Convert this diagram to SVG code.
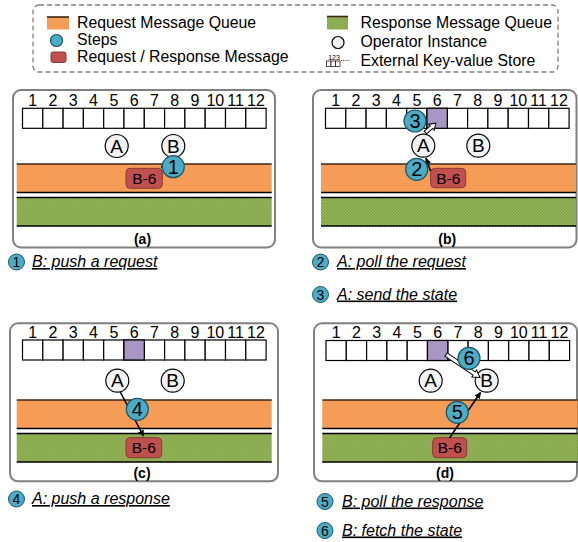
<svg xmlns="http://www.w3.org/2000/svg" xmlns:xlink="http://www.w3.org/1999/xlink" width="578" height="542" viewBox="0 0 578 542">
  <style>
    text { font-family: "Liberation Sans", Arial, sans-serif; fill: #000; }
    .legend-text { font-size: 15.8px; }
    .num { font-size: 16px; text-anchor: middle; }
    .op { fill: #f2f2f2; stroke: #000; stroke-width: 1.2; }
    .op-label { font-size: 19px; text-anchor: middle; }
    .step { fill: #4BACC6; stroke: #1f5566; stroke-width: 1.2; }
    .step-label { font-size: 20px; text-anchor: middle; }
    .cap-step { fill: #4BACC6; stroke: #1f5566; stroke-width: 1; }
    .cap-num { font-size: 14px; text-anchor: middle; }
    .caption { font-size: 16px; font-style: italic; text-decoration: underline; }
    .msg { fill: #C0504D; stroke: #8C3836; stroke-width: 1; }
    .msg-label { font-size: 15.5px; text-anchor: middle; }
    .panel { fill: #fff; stroke: #808080; stroke-width: 2; }
    .panel-label { font-size: 14px; font-weight: bold; text-anchor: middle; }
    .cell { fill: #fff; stroke: #000; stroke-width: 1.2; }
    .used { fill: #A897C4; stroke: #000; stroke-width: 1.2; }
    .req { fill: #F59D56; }
    .resp { fill: url(#hatch); }
    .rule { stroke: #000; stroke-width: 1.6; }
    .rule-top { stroke: #3d2614; stroke-width: 1.6; }
    .flow { fill: none; stroke: #000; stroke-width: 1.6; marker-end: url(#head); }
    .block { fill: #fff; stroke: #000; stroke-width: 1; stroke-linejoin: miter; }
    .kv { fill: #fff; stroke: #000; stroke-width: 0.7; }
  </style>
  <defs>
    <pattern id="hatch" width="3" height="3" patternUnits="userSpaceOnUse">
      <rect width="3" height="3" fill="#9ABA5A"/>
      <path d="M0 0h1.5v1.5H0zM1.5 1.5H3V3H1.5z" fill="#7FA047"/>
    </pattern>
    <marker id="head" viewBox="0 0 10 10" refX="9" refY="5" markerWidth="4" markerHeight="4" orient="auto" markerUnits="strokeWidth">
      <path d="M0 0L10 5L0 10z" fill="#000"/>
    </marker>
    <!-- key-value store: 12 slots with their key numbers -->
    <g id="store">
      <rect class="cell" x="0" y="0" width="20.3" height="20"/>
      <rect class="cell" x="20.3" y="0" width="20.3" height="20"/>
      <rect class="cell" x="40.6" y="0" width="20.3" height="20"/>
      <rect class="cell" x="60.9" y="0" width="20.3" height="20"/>
      <rect class="cell" x="81.2" y="0" width="20.3" height="20"/>
      <rect class="cell" x="101.5" y="0" width="20.3" height="20"/>
      <rect class="cell" x="121.8" y="0" width="20.3" height="20"/>
      <rect class="cell" x="142.1" y="0" width="20.3" height="20"/>
      <rect class="cell" x="162.4" y="0" width="20.3" height="20"/>
      <rect class="cell" x="182.7" y="0" width="20.3" height="20"/>
      <rect class="cell" x="203" y="0" width="20.3" height="20"/>
      <rect class="cell" x="223.3" y="0" width="20.3" height="20"/>
      <text class="num" x="10.15" y="-2.5">1</text>
      <text class="num" x="30.45" y="-2.5">2</text>
      <text class="num" x="50.75" y="-2.5">3</text>
      <text class="num" x="71.05" y="-2.5">4</text>
      <text class="num" x="91.35" y="-2.5">5</text>
      <text class="num" x="111.65" y="-2.5">6</text>
      <text class="num" x="131.95" y="-2.5">7</text>
      <text class="num" x="152.25" y="-2.5">8</text>
      <text class="num" x="172.55" y="-2.5">9</text>
      <text class="num" x="192.85" y="-2.5">10</text>
      <text class="num" x="213.15" y="-2.5">11</text>
      <text class="num" x="233.45" y="-2.5">12</text>
    </g>
    <!-- request queue (top) and response queue (bottom) -->
    <g id="queues">
      <rect class="req" x="0" y="0" width="255" height="28.5"/>
      <line class="rule-top" x1="0" y1="0" x2="255" y2="0"/>
      <line class="rule" x1="0" y1="28.5" x2="255" y2="28.5"/>
      <rect class="resp" x="0" y="33.5" width="255" height="28.5"/>
      <line class="rule" x1="0" y1="33.5" x2="255" y2="33.5"/>
      <line class="rule" x1="0" y1="62" x2="255" y2="62"/>
    </g>
  </defs>

  <!-- legend -->
  <g id="legend">
    <rect x="33" y="5" width="525" height="67" rx="6" fill="#fff" stroke="#808080" stroke-width="1.3" stroke-dasharray="5 3"/>
    <rect class="req" x="47" y="17" width="22" height="12.5"/>
    <line class="rule-top" x1="47" y1="17" x2="69" y2="17"/>
    <text class="legend-text" x="77" y="28">Request Message Queue</text>
    <circle class="step" cx="56.5" cy="40.5" r="6"/>
    <text class="legend-text" x="77" y="45">Steps</text>
    <rect class="msg" x="51" y="52" width="15" height="10.5" rx="2"/>
    <text class="legend-text" x="77" y="62">Request / Response Message</text>
    <rect class="resp" x="327" y="16.5" width="21" height="13"/>
    <line class="rule-top" x1="327" y1="16.5" x2="348" y2="16.5"/>
    <text class="legend-text" x="360.5" y="28">Response Message Queue</text>
    <circle class="op" cx="338" cy="42.5" r="6"/>
    <text class="legend-text" x="360.5" y="47">Operator Instance</text>
    <rect class="kv" x="326.5" y="61" width="4.5" height="5.5"/>
    <rect class="kv" x="331" y="61" width="4.5" height="5.5"/>
    <rect class="kv" x="335.5" y="61" width="4.5" height="5.5"/>
    <text x="334" y="59.5" font-size="7" text-anchor="middle">123</text>
    <line x1="341" y1="60.5" x2="350" y2="60.5" stroke="#000" stroke-width="0.8" stroke-dasharray="1 1.2"/>
    <text class="legend-text" x="360.5" y="66">External Key-value Store</text>
  </g>

  <!-- panel (a): B pushes a request -->
  <g id="panel-a">
    <rect class="panel" x="13" y="90" width="262" height="157.5" rx="8"/>
    <use xlink:href="#store" x="22.5" y="108.3"/>
    <use xlink:href="#queues" x="16.7" y="164"/>
    <text class="panel-label" x="142.5" y="243.5">(a)</text>
  </g>
  <g id="a-op-A"><circle class="op" cx="116.7" cy="146" r="11.5"/><text class="op-label" x="116.7" y="152.7">A</text></g>
  <g id="a-op-B"><circle class="op" cx="173.3" cy="146" r="11.5"/><text class="op-label" x="173.3" y="152.7">B</text></g>
  <g id="a-msg"><rect class="msg" x="126" y="168.3" width="36.3" height="20" rx="4"/><text class="msg-label" x="144.2" y="183.7">B-6</text></g>

  <!-- panel (b): A polls the request and sends the state -->
  <g id="panel-b">
    <rect class="panel" x="313" y="90" width="263.5" height="157.5" rx="8"/>
    <use xlink:href="#store" x="325.5" y="108.3"/>
    <rect class="used" x="427" y="108.3" width="20.3" height="20"/>
    <use xlink:href="#queues" x="321" y="164"/>
    <text class="panel-label" x="447.3" y="243.5">(b)</text>
  </g>
  <g id="b-op-A"><circle class="op" cx="423.3" cy="145.7" r="11.5"/><text class="op-label" x="423.3" y="152.4">A</text></g>
  <g id="b-op-B"><circle class="op" cx="478.3" cy="145.7" r="11.5"/><text class="op-label" x="478.3" y="152.4">B</text></g>
  <g id="b-msg"><rect class="msg" x="430.7" y="168.3" width="35" height="19.5" rx="4"/><text class="msg-label" x="448.2" y="183.5">B-6</text></g>

  <!-- panel (c): A pushes a response -->
  <g id="panel-c">
    <rect class="panel" x="10" y="323.3" width="268" height="158" rx="8"/>
    <use xlink:href="#store" x="22.5" y="340"/>
    <rect class="used" x="124" y="340" width="20.3" height="20"/>
    <use xlink:href="#queues" x="16.7" y="400"/>
    <text class="panel-label" x="142" y="477.5">(c)</text>
  </g>
  <g id="c-op-A"><circle class="op" cx="117.3" cy="380.7" r="11.5"/><text class="op-label" x="117.3" y="387.4">A</text></g>
  <g id="c-op-B"><circle class="op" cx="172.7" cy="380.7" r="11.5"/><text class="op-label" x="172.7" y="387.4">B</text></g>
  <g id="c-msg"><rect class="msg" x="126" y="437.7" width="35.7" height="20" rx="4"/><text class="msg-label" x="143.8" y="453">B-6</text></g>

  <!-- panel (d): B polls the response and fetches the state -->
  <g id="panel-d">
    <rect class="panel" x="314" y="323.3" width="263" height="158" rx="8"/>
    <use xlink:href="#store" x="326" y="340.5"/>
    <rect class="used" x="427.5" y="340.5" width="20.3" height="20"/>
    <use xlink:href="#queues" x="322.3" y="400"/>
    <text class="panel-label" x="445" y="477.5">(d)</text>
  </g>
  <g id="d-op-A"><circle class="op" cx="430.7" cy="380.7" r="11.5"/><text class="op-label" x="430.7" y="387.4">A</text></g>
  <g id="d-op-B"><circle class="op" cx="486.7" cy="380.7" r="11.5"/><text class="op-label" x="486.7" y="387.4">B</text></g>
  <g id="d-msg"><rect class="msg" x="432.7" y="437.7" width="34" height="20" rx="4"/><text class="msg-label" x="449.7" y="453">B-6</text></g>

  <!-- connectors -->
  <g id="connectors">
    <line class="flow" x1="171" y1="157" x2="161.5" y2="167.5"/>
    <line class="flow" x1="430.5" y1="171" x2="426" y2="158"/>
    <polygon class="block" transform="translate(425.5,132.5) rotate(-42)" points="0,-1.8 8,-1.8 8,-4 14,0 8,4 8,1.8 0,1.8"/>
    <line class="flow" x1="120" y1="391.5" x2="143.5" y2="436"/>
    <polygon class="block" transform="translate(446,354.5) rotate(34)" points="0,-2 34,-2 34,-4.2 41,0 34,4.2 34,2 0,2"/>
    <line class="flow" x1="449.5" y1="438" x2="480.5" y2="392.5"/>
  </g>

  <!-- step markers -->
  <g id="step-1"><circle class="step" cx="173.3" cy="166.7" r="11"/><text class="step-label" x="173.3" y="173.7">1</text></g>
  <g id="step-2"><circle class="step" cx="416.7" cy="169.3" r="11"/><text class="step-label" x="416.7" y="176.3">2</text></g>
  <g id="step-3"><circle class="step" cx="415" cy="121" r="11"/><text class="step-label" x="415" y="128">3</text></g>
  <g id="step-4"><circle class="step" cx="137.3" cy="409.3" r="11"/><text class="step-label" x="137.3" y="416.3">4</text></g>
  <g id="step-5"><circle class="step" cx="457.3" cy="412.3" r="11"/><text class="step-label" x="457.3" y="419.3">5</text></g>
  <g id="step-6"><circle class="step" cx="469" cy="358.3" r="11"/><text class="step-label" x="469" y="365.3">6</text></g>

  <!-- step captions -->
  <g id="caption-1"><circle class="cap-step" cx="16.5" cy="262" r="8"/><text class="cap-num" x="16.5" y="267">1</text><text class="caption" x="32" y="267">B: push a request</text></g>
  <g id="caption-2"><circle class="cap-step" cx="320.5" cy="262" r="8"/><text class="cap-num" x="320.5" y="267">2</text><text class="caption" x="337" y="267">A: poll the request</text></g>
  <g id="caption-3"><circle class="cap-step" cx="320.5" cy="294.5" r="8"/><text class="cap-num" x="320.5" y="299.5">3</text><text class="caption" x="337" y="299.5">A: send the state</text></g>
  <g id="caption-4"><circle class="cap-step" cx="16.5" cy="499" r="8"/><text class="cap-num" x="16.5" y="504">4</text><text class="caption" x="32" y="504">A: push a response</text></g>
  <g id="caption-5"><circle class="cap-step" cx="325" cy="501.5" r="8"/><text class="cap-num" x="325" y="506.5">5</text><text class="caption" x="342" y="506.5">B: poll the response</text></g>
  <g id="caption-6"><circle class="cap-step" cx="325" cy="530.5" r="8"/><text class="cap-num" x="325" y="535.5">6</text><text class="caption" x="342" y="535.5">B: fetch the state</text></g>
</svg>
